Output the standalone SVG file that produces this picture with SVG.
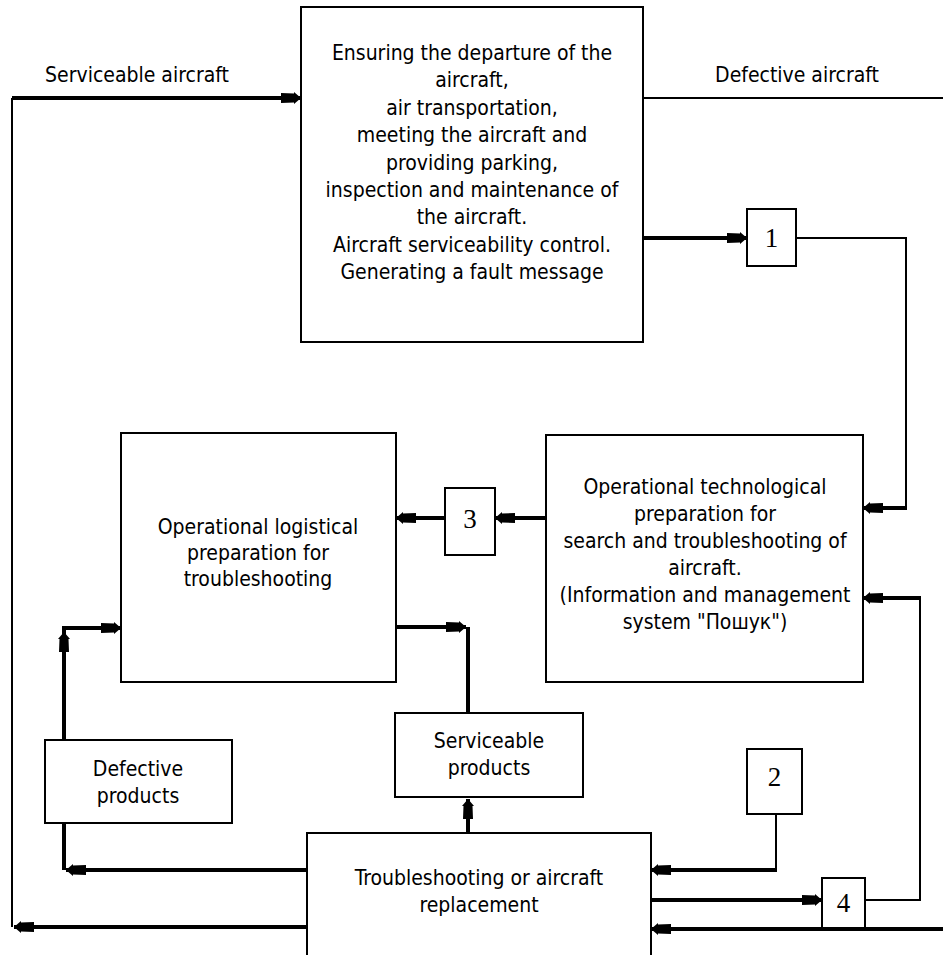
<svg xmlns="http://www.w3.org/2000/svg" width="943" height="955" viewBox="0 0 943 955">
  <defs>
    <style>
      .box { fill: #ffffff; stroke: #000000; stroke-width: 2; }
      .lbl { font-family: "DejaVu Sans Condensed", "DejaVu Sans", Verdana, sans-serif; font-stretch: condensed; font-size: 21px; fill: #000000; text-anchor: middle; }
      .num { font-family: "Liberation Serif", "Times New Roman", serif; font-size: 27px; fill: #000000; text-anchor: middle; }
      .thin { fill: none; stroke: #000000; stroke-width: 2; }
      .thick { fill: none; stroke: #000000; stroke-width: 4; }
    </style>
    <marker id="arrow" markerUnits="userSpaceOnUse" viewBox="-22 -7 23 14" refX="0" refY="0" markerWidth="23" markerHeight="14" orient="auto">
      <path d="M0,0 L-7,-6 L-7,-4.5 L-20,-5 L-20,5 L-7,4.5 L-7,6 Z" fill="#000000"/>
    </marker>
  </defs>

  <rect width="943" height="955" fill="#ffffff"/>

  <!-- connectors -->
  <g id="connectors">
    <!-- serviceable aircraft return loop -->
    <path class="thin" d="M12,927 V98"/>
    <path class="thick" d="M12,98 H301" marker-end="url(#arrow)"/>
    <path class="thin" d="M643,98 H943"/>
    <!-- main block to 1 -->
    <path class="thick" d="M643,238 H747" marker-end="url(#arrow)"/>
    <!-- 1 to technological preparation -->
    <path class="thin" d="M796,238 H906 V508"/>
    <path class="thick" d="M907,508 H863" marker-end="url(#arrow)"/>
    <!-- technological -> 3 -> logistical -->
    <path class="thick" d="M546,518 H495" marker-end="url(#arrow)"/>
    <path class="thick" d="M445,518 H396" marker-end="url(#arrow)"/>
    <!-- logistical / serviceable products -->
    <path class="thick" d="M396,627 H466" marker-end="url(#arrow)"/>
    <path class="thick" d="M468,627 V713"/>
    <path class="thick" d="M468,833 V799" marker-end="url(#arrow)"/>
    <!-- defective products -> logistical -->
    <path class="thick" d="M64,740 V632" marker-end="url(#arrow)"/>
    <path class="thick" d="M64,634 V628 H121" marker-end="url(#arrow)"/>
    <!-- troubleshooting -> defective products -->
    <path class="thick" d="M64,823 V870"/>
    <path class="thick" d="M307,870 H66" marker-end="url(#arrow)"/>
    <!-- troubleshooting -> serviceable aircraft -->
    <path class="thick" d="M307,927 H14" marker-end="url(#arrow)"/>
    <!-- 2 -> troubleshooting -->
    <path class="thin" d="M776,814 V870"/>
    <path class="thick" d="M777,870 H651" marker-end="url(#arrow)"/>
    <!-- troubleshooting -> 4 -> technological -->
    <path class="thick" d="M651,900 H822" marker-end="url(#arrow)"/>
    <path class="thin" d="M865,900 H920 V598"/>
    <path class="thick" d="M921,598 H863" marker-end="url(#arrow)"/>
    <!-- incoming defective aircraft -->
    <path class="thick" d="M943,929 H651" marker-end="url(#arrow)"/>
  </g>

  <g id="node-main">
    <rect class="box" x="301" y="7" width="342" height="335"/>
    <text class="lbl" x="472" y="60">Ensuring the departure of the</text>
    <text class="lbl" x="472" y="87">aircraft,</text>
    <text class="lbl" x="472" y="115">air transportation,</text>
    <text class="lbl" x="472" y="142">meeting the aircraft and</text>
    <text class="lbl" x="472" y="170">providing parking,</text>
    <text class="lbl" x="472" y="197">inspection and maintenance of</text>
    <text class="lbl" x="472" y="224">the aircraft.</text>
    <text class="lbl" x="472" y="252">Aircraft serviceability control.</text>
    <text class="lbl" x="472" y="279">Generating a fault message</text>
  </g>

  <g id="label-serviceable-aircraft">
    <text class="lbl" x="137" y="82">Serviceable aircraft</text>
  </g>
  <g id="label-defective-aircraft">
    <text class="lbl" x="797" y="82">Defective aircraft</text>
  </g>

  <g id="node-1">
    <rect class="box" x="747" y="209" width="49" height="57"/>
    <text class="num" x="771.5" y="247">1</text>
  </g>

  <g id="node-technological">
    <rect class="box" x="546" y="435" width="317" height="247"/>
    <text class="lbl" x="705" y="494">Operational technological</text>
    <text class="lbl" x="705" y="521">preparation for</text>
    <text class="lbl" x="705" y="548">search and troubleshooting of</text>
    <text class="lbl" x="705" y="575">aircraft.</text>
    <text class="lbl" x="705" y="602">(Information and management</text>
    <text class="lbl" x="705" y="629">system "Пошук")</text>
  </g>

  <g id="node-3">
    <rect class="box" x="445" y="488" width="50" height="67"/>
    <text class="num" x="470" y="528">3</text>
  </g>

  <g id="node-logistical">
    <rect class="box" x="121" y="433" width="275" height="249"/>
    <text class="lbl" x="258" y="534">Operational logistical</text>
    <text class="lbl" x="258" y="560">preparation for</text>
    <text class="lbl" x="258" y="586">troubleshooting</text>
  </g>

  <g id="node-defective-products">
    <rect class="box" x="45" y="740" width="187" height="83"/>
    <text class="lbl" x="138" y="776">Defective</text>
    <text class="lbl" x="138" y="803">products</text>
  </g>

  <g id="node-serviceable-products">
    <rect class="box" x="395" y="713" width="188" height="84"/>
    <text class="lbl" x="489" y="748">Serviceable</text>
    <text class="lbl" x="489" y="775">products</text>
  </g>

  <g id="node-2">
    <rect class="box" x="747" y="749" width="55" height="65"/>
    <text class="num" x="774.5" y="786">2</text>
  </g>

  <g id="node-troubleshooting">
    <rect class="box" x="307" y="833" width="344" height="130"/>
    <text class="lbl" x="479" y="885">Troubleshooting or aircraft</text>
    <text class="lbl" x="479" y="912">replacement</text>
  </g>

  <g id="node-4">
    <rect class="box" x="822" y="878" width="43" height="50"/>
    <text class="num" x="843.5" y="912">4</text>
  </g>
</svg>
